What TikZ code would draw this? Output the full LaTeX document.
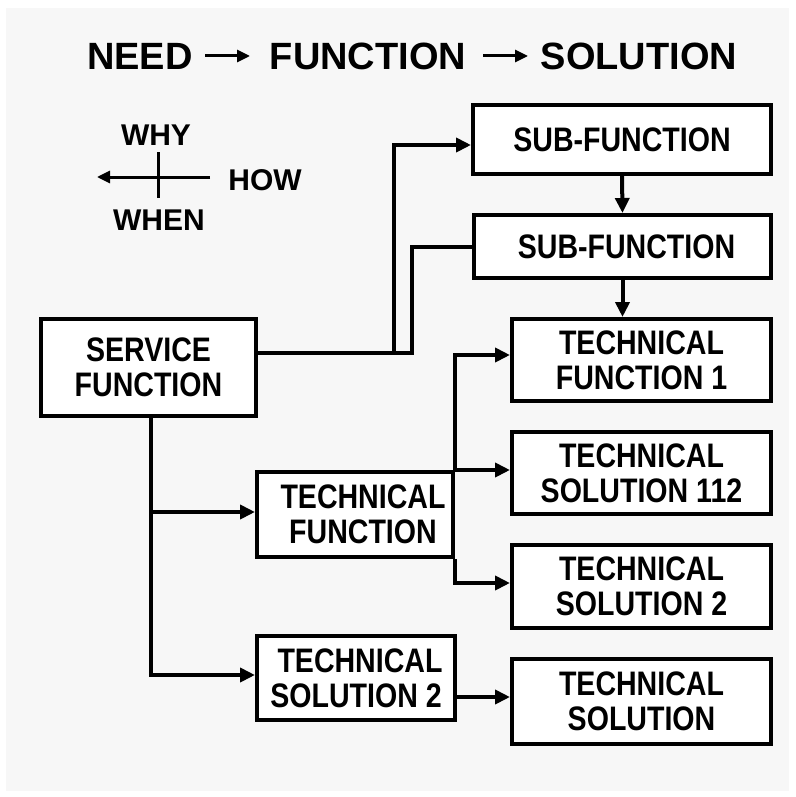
\documentclass[tikz,border=0pt]{standalone}
\usepackage{fontspec}
\usetikzlibrary{arrows.meta}
\newfontfamily\lbl{Liberation Sans Bold}[FakeStretch=0.84]
\newfontfamily\head{Liberation Sans Bold}
\definecolor{paper}{HTML}{F7F7F7}
\tikzset{
  box/.style={draw, line width=4pt, fill=white, inner sep=0pt, align=center,
    font=\lbl\fontsize{34}{35}\selectfont},
  heading/.style={font=\head\fontsize{38}{40}\selectfont, anchor=base, inner sep=0pt},
  compass/.style={font=\head\fontsize{30}{32}\selectfont, anchor=base, inner sep=0pt},
  link/.style={line width=4pt},
  arr/.style={link, -{Triangle[length=15pt,width=14pt]}},
  thin arr/.style={line width=3pt, -{Triangle[length=13pt,width=12pt]}},
}
\begin{document}
\begin{tikzpicture}[x=1pt,y=-1pt]
\useasboundingbox (0,0) rectangle (795,797);
\fill[white] (0,0) rectangle (795,797);
\fill[paper] (6,8) rectangle (789,791);

% heading
\node[heading] (need) at (140,70) {NEED};
\node[heading] (func) at (368,70) {FUNCTION};
\node[heading] (sol) at (639,70) {SOLUTION};
\coordinate (a1s) at (205,56);
\coordinate (a1e) at (250,56);
\coordinate (a2s) at (483,56);
\coordinate (a2e) at (528,56);
\draw[thin arr] (a1s) -- (a1e);
\draw[thin arr] (a2s) -- (a2e);

% why / how / when compass
\coordinate (hr) at (210,177);
\coordinate (hl) at (97,177);
\coordinate (vt) at (158,152);
\coordinate (vb) at (158,198);
\draw[thin arr] (hr) -- (hl);
\draw[line width=3pt] (vt) -- (vb);
\node[compass] (why) at (156,145) {WHY};
\node[compass] (how) at (265,190) {HOW};
\node[compass] (when) at (159,230) {WHEN};

% boxes
\node[box, minimum width=298pt, minimum height=69pt] (sf1) at (622,139.5) {SUB-FUNCTION};
\node[box, minimum width=297pt, minimum height=63pt] (sf2) at (622.5,246.5) {\hspace*{8pt}SUB-FUNCTION};
\node[box, minimum width=259pt, minimum height=82pt] (tf1) at (641.5,360) {TECHNICAL\\FUNCTION 1};
\node[box, minimum width=259pt, minimum height=82pt] (ts112) at (641.5,473) {TECHNICAL\\SOLUTION 112};
\node[box, minimum width=259pt, minimum height=83pt] (ts2r) at (641.5,586.5) {TECHNICAL\\SOLUTION 2};
\node[box, minimum width=259pt, minimum height=85pt] (tsb) at (641.5,701.5) {TECHNICAL\\SOLUTION};
\node[box, minimum width=215pt, minimum height=97pt] (serv) at (148.5,367.5) {SERVICE\\FUNCTION};
\node[box, minimum width=196pt, minimum height=85pt] (tf) at (355,514.5) {\hspace*{16pt}TECHNICAL\\\hspace*{16pt}FUNCTION};
\node[box, minimum width=198pt, minimum height=84pt] (ts2l) at (356,678) {\hspace*{8pt}TECHNICAL\\SOLUTION 2};

% routing points
\coordinate (j1) at (394,353);
\coordinate (j2) at (412,353);
\coordinate (s1) at (394,145);
\coordinate (s2) at (412,247);
\coordinate (d1) at (151,512);
\coordinate (d2) at (151,675);
\coordinate (t1) at (455,355);
\coordinate (t3) at (455,583);
\coordinate (b1) at (457,697);

% service function to sub-functions
\draw[arr] (serv.east |- j1) -- (j1) -- (s1) -- (sf1.west |- s1);
\draw[link] (j1) -- (j2) -- (s2) -- (sf2.west |- s2);
\draw[arr] (sf1.south) -- (sf2.north);
\draw[arr] (sf2.south) -- (sf2.south |- tf1.north);

% service function downwards
\draw[arr] (serv.south -| d1) -- (d2) -- (ts2l.west |- d2);
\draw[arr] (d1) -- (tf.west |- d1);

% technical function branches
\draw[arr] (tf.north east) -- (t1) -- (tf1.west |- t1);
\draw[arr] (tf.north east) -- (ts112.west |- tf.north east);
\draw[arr] (tf.south east) -- (t3) -- (ts2r.west |- t3);
\draw[arr] (b1) -- (tsb.west |- b1);
\end{tikzpicture}
\end{document}
